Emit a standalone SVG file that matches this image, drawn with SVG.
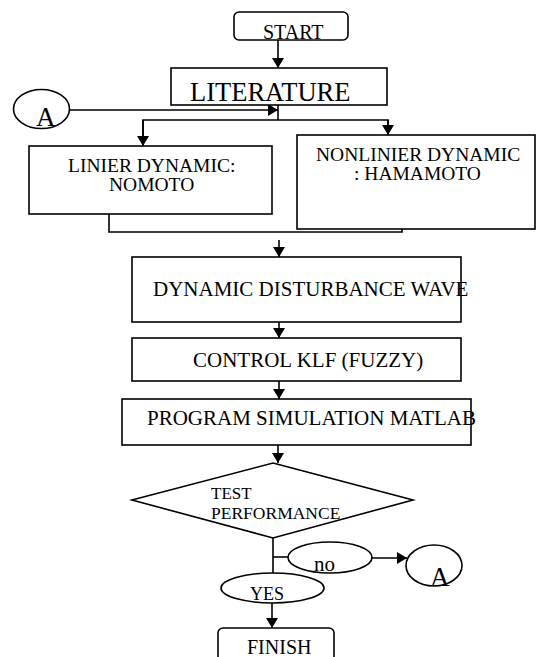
<svg xmlns="http://www.w3.org/2000/svg" width="539" height="657" viewBox="0 0 539 657">
<style>
.s{fill:#fff;stroke:#000;stroke-width:1.6}
.c{fill:none;stroke:#000;stroke-width:1.6}
text{font-family:"Liberation Serif","Times New Roman",serif;fill:#000}
</style>
<defs>
<marker id="ah" viewBox="0 0 10 12" markerWidth="10" markerHeight="12" refX="10" refY="6" orient="auto" markerUnits="userSpaceOnUse">
<path d="M0,0 L10,6 L0,12 z" fill="#000"/>
</marker>
</defs>
<g id="connectors">
<line class="c" x1="278" y1="40" x2="278" y2="68" marker-end="url(#ah)"/>
<line class="c" x1="69" y1="110" x2="278" y2="110" marker-end="url(#ah)"/>
<line class="c" x1="278" y1="105" x2="278" y2="120"/>
<polyline class="c" points="143,146 143,120 388,120 388,135"/>
<line class="c" x1="143" y1="120" x2="143" y2="146" marker-end="url(#ah)"/>
<line class="c" x1="388" y1="120" x2="388" y2="135" marker-end="url(#ah)"/>
<polyline class="c" points="109,214 109,232 402,232 402,229"/>
<line class="c" x1="279" y1="240" x2="279" y2="257" marker-end="url(#ah)"/>
<line class="c" x1="279" y1="322" x2="279" y2="338" marker-end="url(#ah)"/>
<line class="c" x1="279" y1="381" x2="279" y2="399" marker-end="url(#ah)"/>
<line class="c" x1="278" y1="445" x2="278" y2="463" marker-end="url(#ah)"/>
<line class="c" x1="273" y1="538" x2="273" y2="573"/>
<line class="c" x1="273" y1="557" x2="288" y2="557"/>
<line class="c" x1="372" y1="558" x2="407" y2="558" marker-end="url(#ah)"/>
<line class="c" x1="272" y1="603" x2="272" y2="628" marker-end="url(#ah)"/>
</g>
<g id="start">
<rect class="s" x="234" y="12" width="114" height="28" rx="5"/>
<text x="263" y="39" font-size="20">START</text>
</g>
<g id="literature">
<rect class="s" x="171" y="68" width="216" height="37"/>
<text x="190" y="101" font-size="26.5">LITERATURE</text>
</g>
<g id="connectorA1">
<ellipse class="s" cx="41.5" cy="109" rx="28" ry="19.5"/>
<text x="36" y="126" font-size="27">A</text>
</g>
<g id="linier">
<rect class="s" x="29" y="146" width="243" height="68"/>
<text x="68" y="172" font-size="19.5">LINIER DYNAMIC:</text>
<text x="109" y="191" font-size="19.5">NOMOTO</text>
</g>
<g id="nonlinier">
<rect class="s" x="297" y="135" width="238" height="94"/>
<text x="316" y="161" font-size="19.5">NONLINIER DYNAMIC</text>
<text x="354" y="180" font-size="19.5">: HAMAMOTO</text>
</g>
<g id="disturbance">
<rect class="s" x="132" y="257" width="329" height="65"/>
<text x="153" y="296" font-size="21">DYNAMIC DISTURBANCE WAVE</text>
</g>
<g id="control">
<rect class="s" x="132" y="338" width="329" height="43"/>
<text x="193" y="367" font-size="21">CONTROL KLF (FUZZY)</text>
</g>
<g id="program">
<rect class="s" x="122" y="399" width="349" height="46"/>
<text x="147" y="425" font-size="21">PROGRAM SIMULATION MATLAB</text>
</g>
<g id="test">
<polygon class="s" points="273,463 413,500 273,538 132,500"/>
<text x="211" y="499" font-size="17">TEST</text>
<text x="211" y="519" font-size="17.5">PERFORMANCE</text>
</g>
<g id="no">
<ellipse class="s" cx="330" cy="557.5" rx="42" ry="15.5"/>
<text x="314" y="571" font-size="21">no</text>
</g>
<g id="connectorA2">
<ellipse class="s" cx="434" cy="565.5" rx="28" ry="20.5"/>
<text x="430" y="586" font-size="27">A</text>
</g>
<g id="yes">
<ellipse class="s" cx="272.5" cy="588" rx="51.5" ry="15"/>
<text x="250" y="600" font-size="18">YES</text>
</g>
<g id="finish">
<rect class="s" x="218" y="628" width="116" height="34" rx="5"/>
<text x="247" y="654" font-size="20">FINISH</text>
</g>
</svg>
